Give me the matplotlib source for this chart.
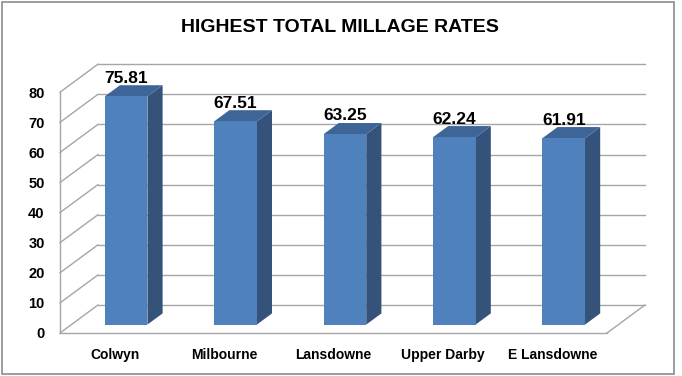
import matplotlib.pyplot as plt
from matplotlib.patches import Polygon, Rectangle

# data
towns = ["Colwyn", "Milbourne", "Lansdowne", "Upper Darby", "E Lansdowne"]
rates = [75.81, 67.51, 63.25, 62.24, 61.91]
yticks = [0, 10, 20, 30, 40, 50, 60, 70, 80]

# fake 3d look (excel style)
DX = 0.347      # depth in category units
DY = 9.3        # depth in value units
BW = 0.195      # half bar width
F0, F1 = 0.3, 0.7   # bar depth front / back
grid_c = "#A6A6A6"
front_c = "#4F81BD"
side_c = "#34527A"
top_c = "#3E6598"

plt.rcParams['font.family'] = ['Liberation Sans', 'DejaVu Sans']

fig = plt.figure(figsize=(6.82, 3.76), dpi=100)
fig.patch.set_facecolor("white")
fig.add_artist(Rectangle((0.003, 0.005), 0.985, 0.99, transform=fig.transFigure,
                         fill=False, edgecolor="#8C8C8C", linewidth=1.2))

ax = fig.add_axes([60/682, 43/376, 547/682, 240.8/376])
ax.set_xlim(-0.5, 4.5)
ax.set_ylim(0, 80)
for s in ax.spines.values():
    s.set_visible(False)

x0, x1 = -0.5, 4.5

# back wall gridlines + side wall diagonals
for v in yticks:
    ax.plot([x0 + DX, x1 + DX], [v + DY, v + DY], color=grid_c, lw=1, clip_on=False, zorder=1)
    ax.plot([x0, x0 + DX], [v, v + DY], color=grid_c, lw=1, clip_on=False, zorder=1)
# front-left edge and floor
ax.plot([x0, x0], [0, 80], color=grid_c, lw=1, clip_on=False, zorder=1)
ax.plot([x0, x1], [0, 0], color=grid_c, lw=1, clip_on=False, zorder=1)
ax.plot([x1, x1 + DX], [0, DY], color=grid_c, lw=1, clip_on=False, zorder=1)

# bars
for i, v in enumerate(rates):
    fx = i + F0 * DX
    fy = F0 * DY
    bx = i + F1 * DX
    by = F1 * DY
    front = Polygon([(fx - BW, fy), (fx + BW, fy), (fx + BW, fy + v), (fx - BW, fy + v)],
                    closed=True, facecolor=front_c, edgecolor="none", clip_on=False, zorder=3)
    side = Polygon([(fx + BW, fy), (bx + BW, by), (bx + BW, by + v), (fx + BW, fy + v)],
                   closed=True, facecolor=side_c, edgecolor="none", clip_on=False, zorder=3)
    top = Polygon([(fx - BW, fy + v), (fx + BW, fy + v), (bx + BW, by + v), (bx - BW, by + v)],
                  closed=True, facecolor=top_c, edgecolor="none", clip_on=False, zorder=3)
    ax.add_patch(side)
    ax.add_patch(top)
    ax.add_patch(front)
    ax.text(fx, v + 0.5 * DY + 4.2, f"{v:.2f}", ha="center", va="center",
            fontsize=12.5, fontweight="bold", zorder=4)

ax.set_yticks(yticks)
ax.set_yticklabels([str(t) for t in yticks], fontsize=10.5, fontweight="bold")
ax.set_xticks(range(len(towns)))
ax.set_xticklabels(towns, fontsize=10, fontweight="bold")
ax.tick_params(axis="y", length=0, pad=11)
ax.tick_params(axis="x", length=0, pad=11)

fig.text(340/682, 1 - 27/376, "HIGHEST TOTAL MILLAGE RATES", ha="center", va="center",
         fontsize=14, fontweight="bold")

fig.savefig("out.png", dpi=100)
